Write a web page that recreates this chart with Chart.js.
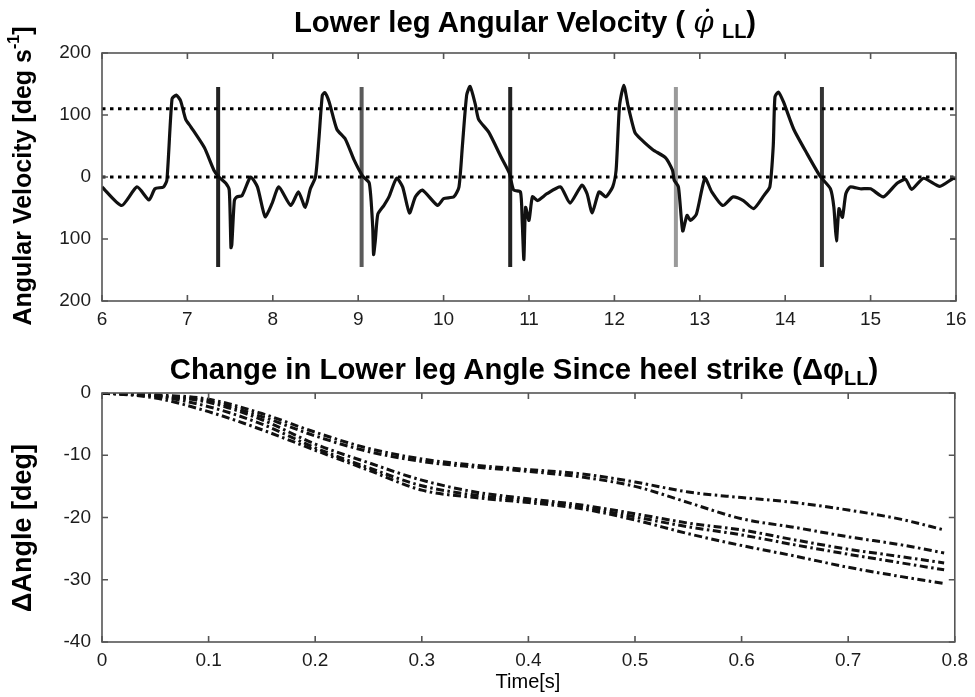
<!DOCTYPE html>
<html>
<head>
<meta charset="utf-8">
<script src="https://cdn.jsdelivr.net/npm/chart.js@4/dist/chart.umd.min.js"></script>
<style>
  html, body { margin:0; padding:0; background:#fff; }
  body { width:975px; height:697px; position:relative; overflow:hidden; font-family:"Liberation Sans", Arial, sans-serif; color:#000; }
  canvas { position:absolute; left:0; }
  #c1 { top:0; }
  #c2 { top:340px; }
  .title { position:absolute; font-weight:bold; font-size:29.3px; line-height:29px; white-space:nowrap; transform:translateX(-50%); }
  .sub { font-size:20px; position:relative; top:6px; }
  .phi { font-family:"DejaVu Serif", serif; font-style:italic; font-weight:normal; }
  .ytitle { position:absolute; font-weight:bold; white-space:nowrap; transform:translate(-50%,-50%) rotate(-90deg); }
  .ytitle sup { font-size:16px; position:relative; top:-2px; }
  .xtitle { position:absolute; font-size:20px; line-height:20px; white-space:nowrap; transform:translateX(-50%); }
</style>
</head>
<body>
<canvas id="c1" width="975" height="340"></canvas>
<canvas id="c2" width="975" height="357"></canvas>

<div class="title" style="left:525px; top:7px;">Lower leg Angular Velocity ( <span class="phi">φ̇</span> <span class="sub">LL</span>)</div>
<div class="title" style="left:524px; top:354px;">Change in Lower leg Angle Since heel strike (Δφ<span class="sub">LL</span>)</div>
<div class="ytitle" style="left:22px; top:176px; font-size:25px;">Angular Velocity [deg s<sup>-1</sup>]</div>
<div class="ytitle" style="left:22px; top:528px; font-size:27px;">ΔAngle [deg]</div>
<div class="xtitle" style="left:528px; top:671px;">Time[s]</div>

<script>
// ---------- Top panel data: lower-leg angular velocity ----------
const velTime = [
  6.0, 6.23, 6.41, 6.55, 6.62, 6.72, 6.76, 6.82, 6.87, 6.92, 6.98, 7.04, 7.2, 7.31, 7.37,
  7.45, 7.49, 7.51, 7.52, 7.55, 7.58, 7.64, 7.74, 7.82, 7.91, 7.99, 8.07, 8.21, 8.3, 8.38,
  8.44, 8.5, 8.54, 8.58, 8.61, 8.66, 8.75, 8.85, 8.95, 9.05, 9.13, 9.17, 9.18, 9.2, 9.23,
  9.3, 9.36, 9.45, 9.52, 9.6, 9.67, 9.75, 9.93, 10.0, 10.12, 10.18, 10.22, 10.27, 10.31, 10.37,
  10.41, 10.53, 10.67, 10.77, 10.82, 10.9, 10.92, 10.94, 10.96, 11.0, 11.04, 11.1, 11.21, 11.37, 11.48,
  11.62, 11.68, 11.74, 11.82, 11.9, 11.98, 12.02, 12.06, 12.11, 12.16, 12.24, 12.31, 12.45, 12.6, 12.68,
  12.7, 12.75, 12.8, 12.85, 12.89, 12.96, 13.06, 13.14, 13.27, 13.39, 13.51, 13.63, 13.75, 13.82, 13.86,
  13.88, 13.92, 13.98, 14.1, 14.25, 14.41, 14.53, 14.57, 14.6, 14.63, 14.67, 14.71, 14.76, 14.88, 15.0,
  15.15, 15.31, 15.41, 15.48, 15.62, 15.81, 15.97, 16.0
];
const velValues = [
  -16, -46, -16, -37, -19, -16, -5, 126, 132, 123, 93, 81, 47, 11, 0,
  -10, -21, -114, -109, -38, -32, -30, 0, -16, -64, -43, -16, -46, -24, -49,
  -19, 0, 61, 132, 136, 121, 77, 61, 28, 2, -10, -81, -125, -103, -60,
  -46, -32, -2, -16, -58, -32, -21, -46, -35, -32, -16, 50, 132, 146, 118,
  93, 72, 33, 6, -21, -24, -70, -133, -49, -70, -32, -38, -27, -16, -42,
  -13, -27, -58, -24, -32, -16, 11, 115, 148, 115, 72, 61, 44, 31, 11,
  -5, -16, -87, -62, -70, -60, -2, -24, -46, -32, -38, -51, -30, -16, 50,
  129, 137, 121, 77, 39, 1, -19, -49, -103, -51, -65, -27, -16, -19, -19,
  -32, -10, -4, -20, -2, -15, -2, -3
];
const heelStrikeTimes = [7.36, 9.04, 10.78, 12.72, 14.43];
const heelStrikeSpan = [-145, 145];
const thresholdLevels = [110, 0];
const velXTicks = [6, 7, 8, 9, 10, 11, 12, 13, 14, 15, 16];
const velYTicks = [-200, -100, 0, 100, 200];

// ---------- Bottom panel data: change in lower-leg angle since heel strike ----------
const angleTime = [0, 0.05, 0.1, 0.15, 0.2, 0.25, 0.3, 0.35, 0.4, 0.45, 0.5, 0.55, 0.6, 0.65, 0.7, 0.75, 0.79];
const angleStep1 = [0, -0.3, -1.0, -3.3, -6.3, -8.9, -10.6, -11.6, -12.3, -13.0, -14.3, -15.9, -16.8, -17.6, -18.8, -20.3, -22.0];
const angleStep2 = [0, -0.4, -1.3, -3.8, -6.9, -9.4, -11.0, -11.9, -12.6, -13.5, -15.0, -17.6, -20.2, -21.6, -23.1, -24.4, -25.7];
const angleStep3 = [0, -0.5, -1.5, -4.3, -8.2, -11.2, -14.0, -15.9, -17.0, -18.0, -19.4, -20.9, -22.0, -23.6, -25.1, -26.3, -27.3];
const angleStep4 = [0, -0.5, -2.2, -5.0, -8.8, -12.0, -14.9, -16.4, -17.3, -18.3, -19.9, -21.5, -22.8, -24.4, -25.9, -27.3, -28.4];
const angleStep5 = [0, -0.8, -3.0, -5.9, -9.2, -12.4, -15.6, -16.8, -17.6, -18.6, -20.4, -22.6, -24.5, -26.2, -28.0, -29.5, -30.6];
const angleXTicks = [0, 0.1, 0.2, 0.3, 0.4, 0.5, 0.6, 0.7, 0.8];
const angleYTicks = [-40, -30, -20, -10, 0];

// ---------- helpers ----------
const tickFont = { family: '"Liberation Sans", Arial, sans-serif', size: 19 };
const tickColor = '#1c1c1c';

const framePlugin = {
  id: 'frame',
  afterDatasetsDraw(chart) {
    const { ctx, chartArea: a, scales } = chart;
    const x = scales.x, y = scales.y;
    ctx.save();
    ctx.strokeStyle = '#555';
    ctx.lineWidth = 1.6;
    ctx.strokeRect(a.left, a.top, a.right - a.left, a.bottom - a.top);
    ctx.beginPath();
    const L = 6;
    x.ticks.forEach(t => {
      const px = x.getPixelForValue(t.value);
      ctx.moveTo(px, a.bottom); ctx.lineTo(px, a.bottom - L);
      ctx.moveTo(px, a.top); ctx.lineTo(px, a.top + L);
    });
    y.ticks.forEach(t => {
      const py = y.getPixelForValue(t.value);
      ctx.moveTo(a.left, py); ctx.lineTo(a.left + L, py);
      ctx.moveTo(a.right, py); ctx.lineTo(a.right - L, py);
    });
    ctx.stroke();
    ctx.restore();
  }
};

function makeScales(xMin, xMax, xTicks, xFmt, yMin, yMax, yTicks, yFmt, xHeight) {
  return {
    x: {
      type: 'linear', min: xMin, max: xMax,
      grid: { display: false, drawTicks: false }, border: { display: false },
      ticks: { font: tickFont, color: tickColor, padding: 7, maxRotation: 0, autoSkip: false, callback: xFmt },
      afterBuildTicks(s) { s.ticks = xTicks.map(v => ({ value: v })); },
      afterFit(s) { s.height = xHeight; }
    },
    y: {
      type: 'linear', min: yMin, max: yMax,
      grid: { display: false, drawTicks: false }, border: { display: false },
      ticks: { font: tickFont, color: tickColor, padding: 11, autoSkip: false, callback: yFmt },
      afterBuildTicks(s) { s.ticks = yTicks.map(v => ({ value: v })); },
      afterFit(s) { s.width = 102; }
    }
  };
}

const commonOpts = {
  responsive: false,
  animation: false,
  plugins: { legend: { display: false }, tooltip: { enabled: false }, title: { display: false } },
  elements: { point: { radius: 0 } }
};

// ---------- Top chart ----------
const heelColors = ['#222', '#5a5a5a', '#222', '#9a9a9a', '#333'];
const topDatasets = [];
thresholdLevels.forEach(lv => {
  topDatasets.push({
    data: [{ x: velXTicks[0], y: lv }, { x: velXTicks[velXTicks.length - 1], y: lv }],
    borderColor: '#000', borderWidth: 3, borderDash: [3.5, 4.5], pointRadius: 0, tension: 0
  });
});
topDatasets.push({
  data: velTime.map((t, i) => ({ x: t, y: velValues[i] })),
  borderColor: '#111', borderWidth: 3.2, pointRadius: 0, tension: 0.2, borderJoinStyle: 'round'
});
heelStrikeTimes.forEach((t, i) => {
  topDatasets.push({
    data: [{ x: t, y: heelStrikeSpan[0] }, { x: t, y: heelStrikeSpan[1] }],
    borderColor: heelColors[i], borderWidth: 4, pointRadius: 0
  });
});

new Chart(document.getElementById('c1'), {
  type: 'line',
  data: { datasets: topDatasets },
  options: Object.assign({}, commonOpts, {
    layout: { padding: { top: 53, right: 19, left: 0, bottom: 0 } },
    scales: makeScales(6, 16, velXTicks, v => String(v), -200, 200, velYTicks, v => String(Math.abs(v)), 39)
  }),
  plugins: [framePlugin]
});

// ---------- Bottom chart ----------
const angleSeries = [angleStep1, angleStep2, angleStep3, angleStep4, angleStep5];
new Chart(document.getElementById('c2'), {
  type: 'line',
  data: {
    datasets: angleSeries.map(s => ({
      data: angleTime.map((t, i) => ({ x: t, y: s[i] })),
      borderColor: '#111', borderWidth: 3, borderDash: [8, 3.5, 2.5, 3.5],
      pointRadius: 0, cubicInterpolationMode: 'monotone'
    }))
  },
  options: Object.assign({}, commonOpts, {
    layout: { padding: { top: 53, right: 19, left: 0, bottom: 0 } },
    scales: makeScales(0, 0.8, angleXTicks, v => (v === 0 ? '0' : v.toFixed(1)), -40, 0, angleYTicks, v => String(v), 55)
  }),
  plugins: [framePlugin]
});
</script>
</body>
</html>
